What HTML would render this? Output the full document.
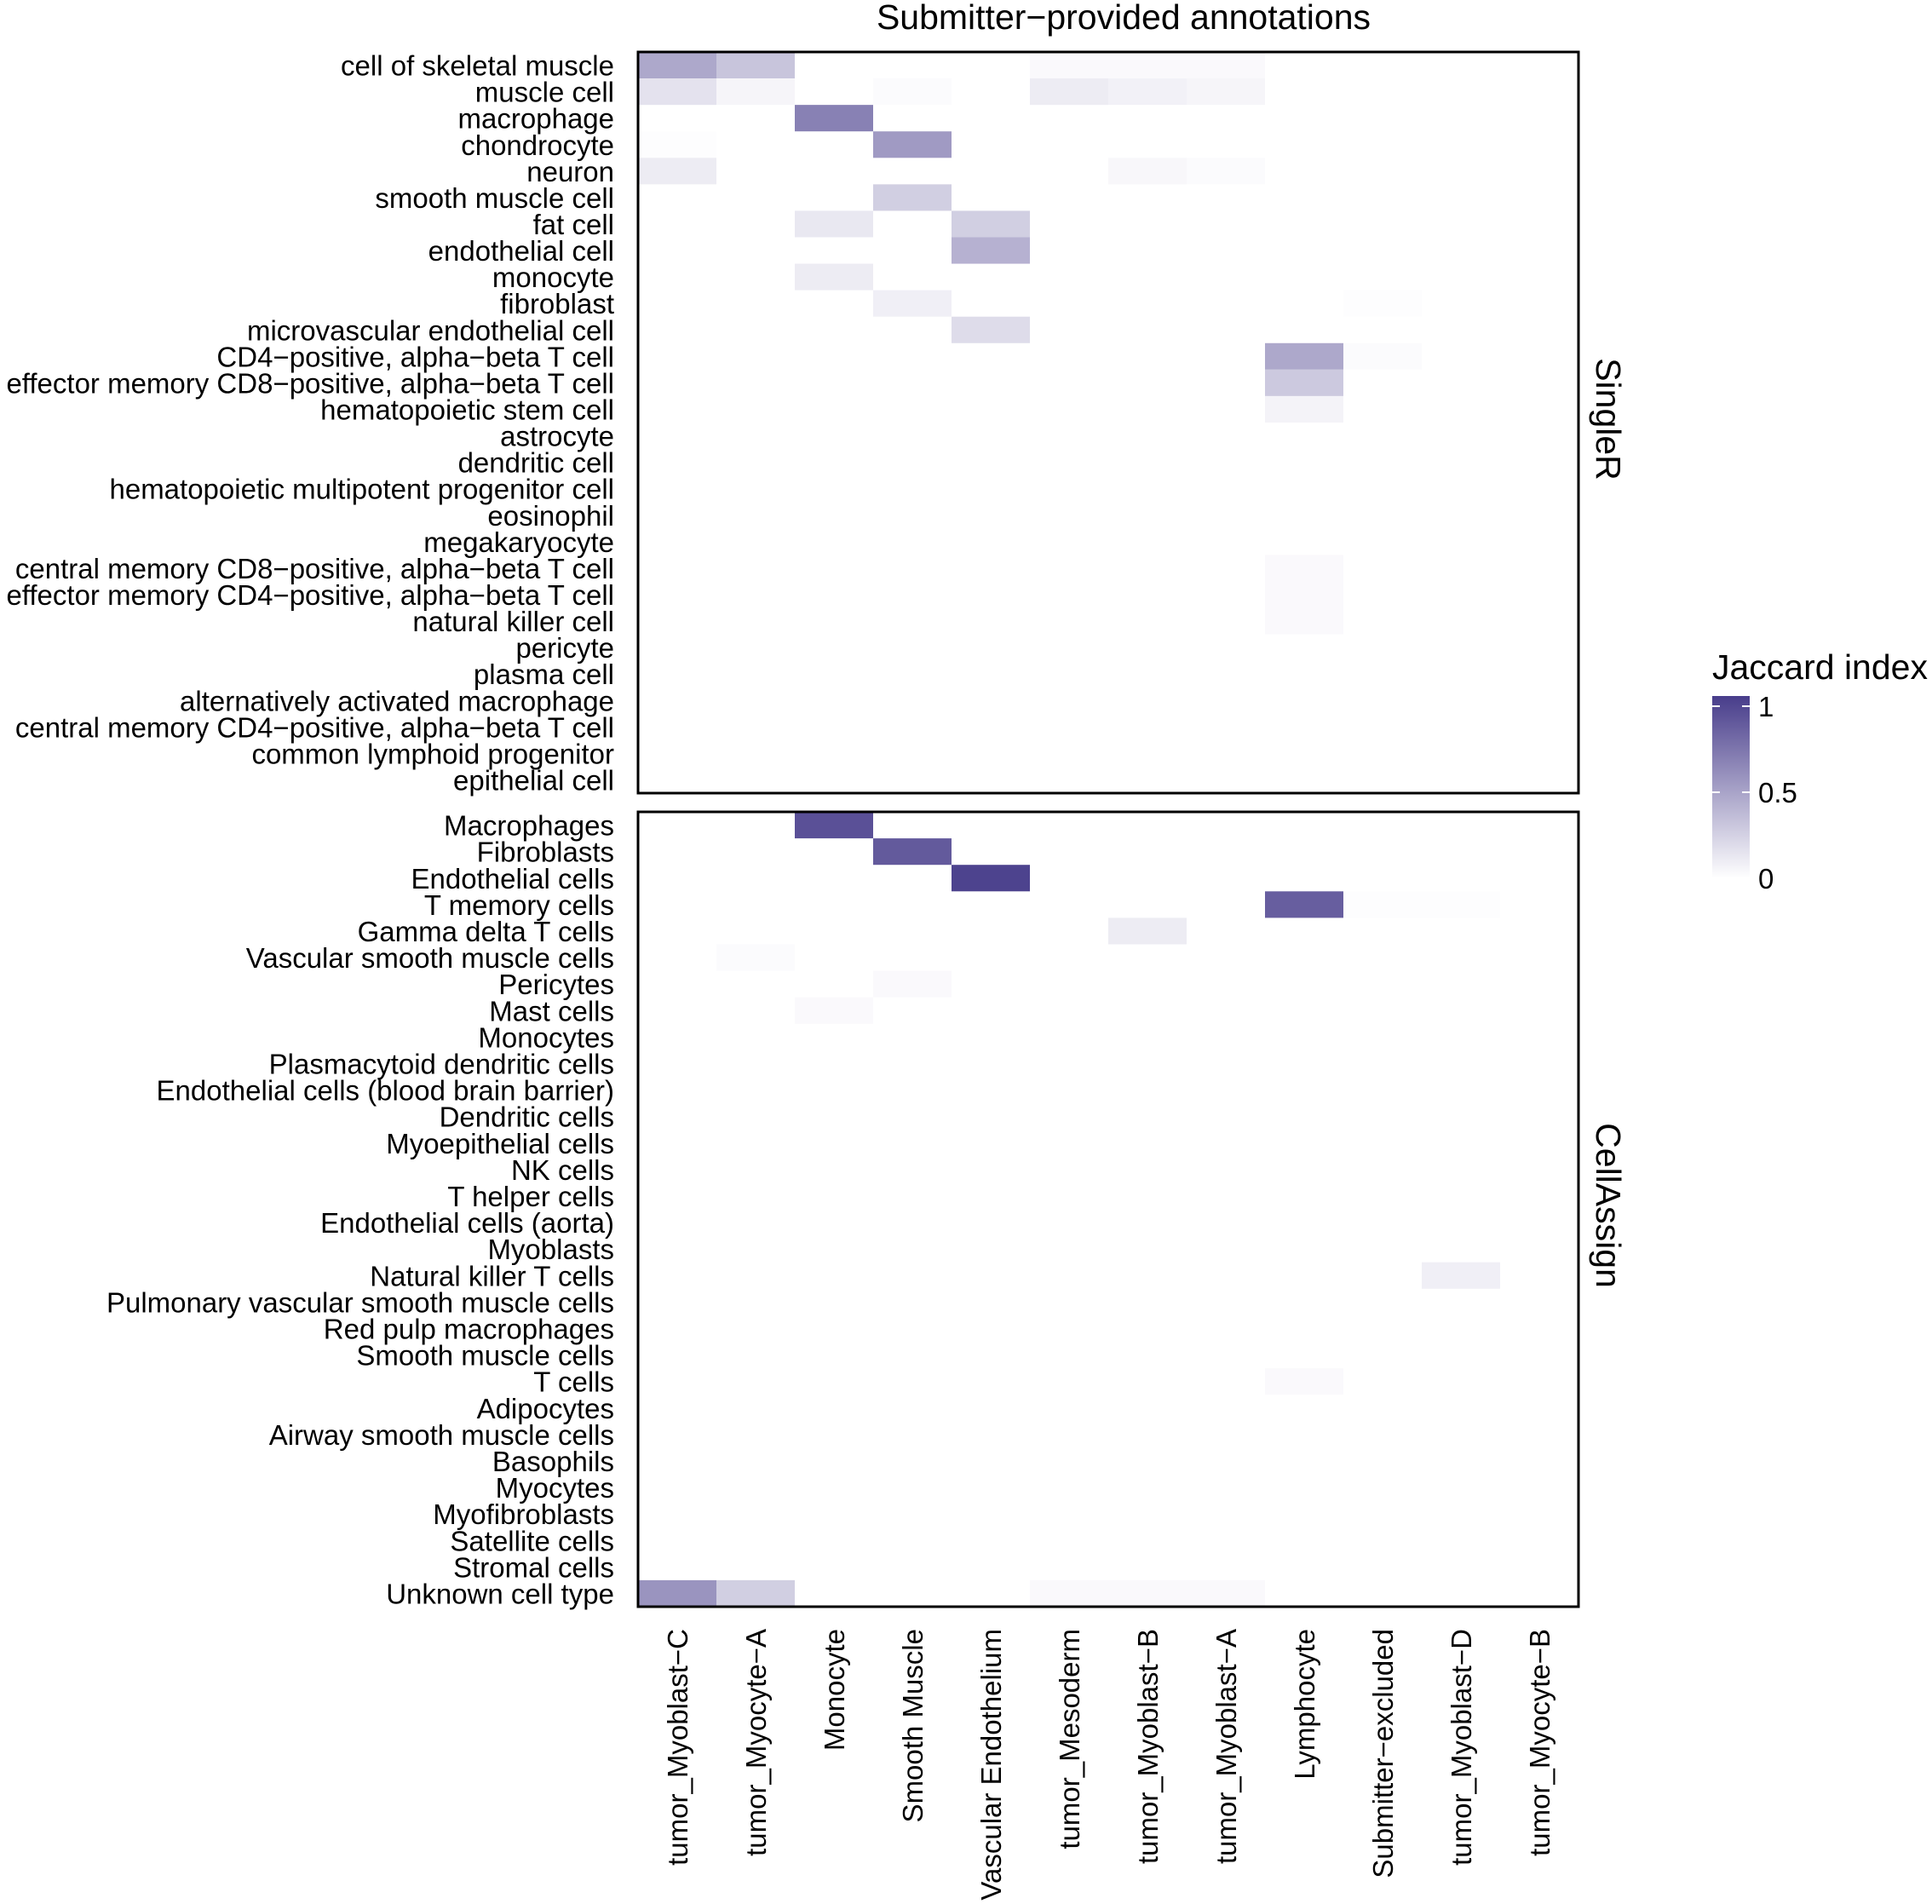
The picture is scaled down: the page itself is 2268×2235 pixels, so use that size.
<!DOCTYPE html>
<html><head><meta charset="utf-8"><style>
html,body{margin:0;padding:0;background:#fff}
svg{display:block;font-family:"Liberation Sans",Arial,sans-serif}
</style></head><body>
<svg id="chart" width="2268" height="2235" viewBox="0 0 2268 2235" xmlns="http://www.w3.org/2000/svg">
<defs><linearGradient id="cbar" x1="0" y1="1" x2="0" y2="0">
<stop offset="0" stop-color="#ffffff"/><stop offset="1" stop-color="#483D8B"/></linearGradient></defs>
<text x="1319" y="34" font-size="41" text-anchor="middle">Submitter−provided annotations</text>
<g id="cells"></g>
<g id="labels"></g>
<rect x="749" y="61" width="1104" height="870" fill="none" stroke="#000" stroke-width="3"/>
<rect x="749" y="953" width="1104" height="933" fill="none" stroke="#000" stroke-width="3"/>
<text transform="translate(1874,492) rotate(90)" font-size="41" text-anchor="middle">SingleR</text>
<text transform="translate(1874,1415) rotate(90)" font-size="41" text-anchor="middle">CellAssign</text>
<g>
<text x="2010" y="797" font-size="41">Jaccard index</text>
<rect x="2010" y="817" width="44" height="214" fill="url(#cbar)"/>
<g id="cbticks"></g>
</g>
</svg>
<script>
const columns=["tumor_Myoblast−C","tumor_Myocyte−A","Monocyte","Smooth Muscle","Vascular Endothelium","tumor_Mesoderm","tumor_Myoblast−B","tumor_Myoblast−A","Lymphocyte","Submitter−excluded","tumor_Myoblast−D","tumor_Myocyte−B"];
const singlerRows=["cell of skeletal muscle","muscle cell","macrophage","chondrocyte","neuron","smooth muscle cell","fat cell","endothelial cell","monocyte","fibroblast","microvascular endothelial cell","CD4−positive, alpha−beta T cell","effector memory CD8−positive, alpha−beta T cell","hematopoietic stem cell","astrocyte","dendritic cell","hematopoietic multipotent progenitor cell","eosinophil","megakaryocyte","central memory CD8−positive, alpha−beta T cell","effector memory CD4−positive, alpha−beta T cell","natural killer cell","pericyte","plasma cell","alternatively activated macrophage","central memory CD4−positive, alpha−beta T cell","common lymphoid progenitor","epithelial cell"];
const cellassignRows=["Macrophages","Fibroblasts","Endothelial cells","T memory cells","Gamma delta T cells","Vascular smooth muscle cells","Pericytes","Mast cells","Monocytes","Plasmacytoid dendritic cells","Endothelial cells (blood brain barrier)","Dendritic cells","Myoepithelial cells","NK cells","T helper cells","Endothelial cells (aorta)","Myoblasts","Natural killer T cells","Pulmonary vascular smooth muscle cells","Red pulp macrophages","Smooth muscle cells","T cells","Adipocytes","Airway smooth muscle cells","Basophils","Myocytes","Myofibroblasts","Satellite cells","Stromal cells","Unknown cell type"];
// [row, col, value]
const singlerValues=[[0,0,0.45],[0,1,0.3],[0,5,0.03],[0,6,0.03],[0,7,0.03],
[1,0,0.15],[1,1,0.05],[1,3,0.02],[1,5,0.1],[1,6,0.07],[1,7,0.05],
[2,2,0.65],[3,0,0.01],[3,3,0.52],[4,0,0.1],[4,6,0.04],[4,7,0.02],
[5,3,0.25],[6,2,0.12],[6,4,0.25],[7,4,0.4],[8,2,0.1],[9,3,0.08],[9,9,0.01],
[10,4,0.18],[11,8,0.45],[11,9,0.02],[12,8,0.28],[13,8,0.06],
[19,8,0.03],[20,8,0.03],[21,8,0.03]];
const cellassignValues=[[0,2,0.9],[1,3,0.85],[2,4,0.97],[3,8,0.83],[3,9,0.01],[3,10,0.01],
[4,6,0.1],[5,1,0.02],[6,3,0.03],[7,2,0.03],[17,10,0.08],[21,8,0.03],
[29,0,0.55],[29,1,0.25],[29,5,0.03],[29,6,0.03],[29,7,0.03]];
const legendTicks=[0,0.5,1];

const NS="http://www.w3.org/2000/svg";
const X0=749,W=1104,colW=W/columns.length;
const panels=[{rows:singlerRows,vals:singlerValues,y0:61,h:870,name:"singler"},
{rows:cellassignRows,vals:cellassignValues,y0:953,h:933,name:"cellassign"}];
function xScale(i){return X0+i*colW;}
function color(v){const a=[255,255,255],b=[72,61,139];
return "rgb("+a.map((c,i)=>Math.round(c+(b[i]-c)*v)).join(",")+")";}
const cells=document.getElementById("cells"),labels=document.getElementById("labels");
panels.forEach(p=>{
 const rh=p.h/p.rows.length;
 const yScale=i=>p.y0+i*rh;
 p.vals.forEach(d=>{
  const r=document.createElementNS(NS,"rect");
  r.setAttribute("x",xScale(d[1]));r.setAttribute("y",yScale(d[0]));
  r.setAttribute("width",colW);r.setAttribute("height",rh);
  r.setAttribute("fill",color(d[2]));
  
  
  cells.appendChild(r);
 });
 p.rows.forEach((t,i)=>{
  const e=document.createElementNS(NS,"text");
  e.setAttribute("x",721);e.setAttribute("y",yScale(i)+rh/2+12);
  e.setAttribute("font-size","33");e.setAttribute("text-anchor","end");
  e.textContent=t;
  
  
  labels.appendChild(e);
 });
});
columns.forEach((t,i)=>{
 const e=document.createElementNS(NS,"text");
 const cx=xScale(i)+colW/2+12;
 e.setAttribute("transform","translate("+cx+",1912) rotate(-90)");
 e.setAttribute("font-size","33");e.setAttribute("text-anchor","end");
 e.textContent=t;
 
 
 labels.appendChild(e);
});
const cb=document.getElementById("cbticks");
legendTicks.forEach(v=>{
 const y=1031-v*202;
 [[2010,2019],[2045,2054]].forEach(s=>{
  const l=document.createElementNS(NS,"line");
  l.setAttribute("x1",s[0]);l.setAttribute("x2",s[1]);l.setAttribute("y1",y);l.setAttribute("y2",y);
  l.setAttribute("stroke","#fff");l.setAttribute("stroke-width","2");
  
  
  cb.appendChild(l);
 });
 const e=document.createElementNS(NS,"text");
 e.setAttribute("x",2064);e.setAttribute("y",y+12);e.setAttribute("font-size","33");
 e.textContent=String(v);
 
 
 cb.appendChild(e);
});
</script>
</body></html>
